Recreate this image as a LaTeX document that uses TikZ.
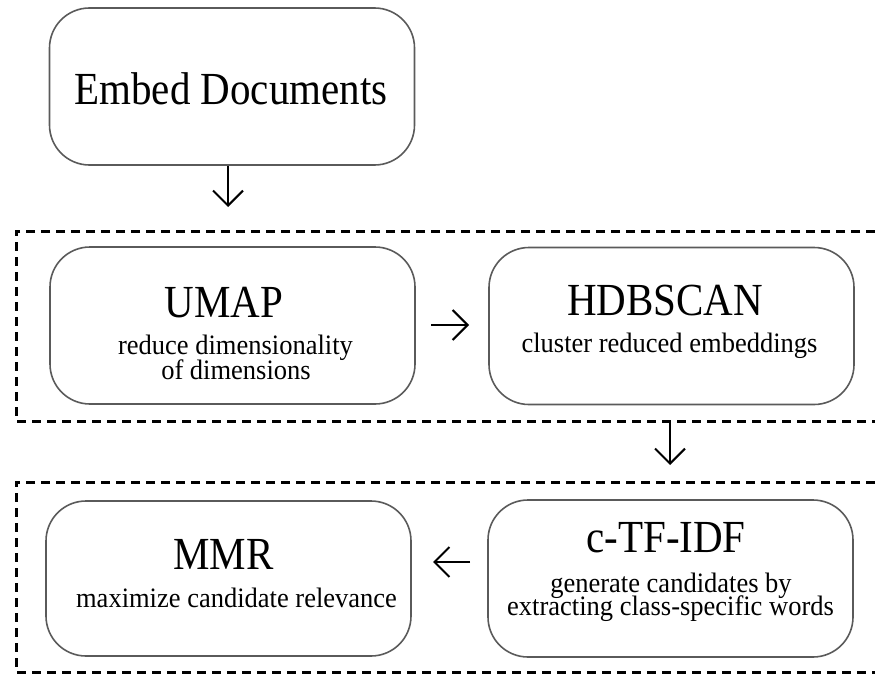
\documentclass[tikz,border=0pt]{standalone}
\usepackage{graphicx}
\usepackage{fontspec}
\setmainfont{Liberation Serif}
\usetikzlibrary{arrows.meta}
\definecolor{boxgray}{HTML}{5A5A5A}
\newcommand{\vstretch}[1]{\scalebox{1}[1.12]{#1}}
\newcommand{\vstretchs}[1]{\scalebox{1}[1.06]{#1}}
\tikzset{
  stepbox/.style={draw=boxgray, line width=1.6pt, rounded corners=40pt,
    minimum width=365pt, minimum height=157pt, inner sep=0pt},
  titletext/.style={anchor=base, inner sep=0pt, font=\fontsize{41}{45}\selectfont},
  subtext/.style={anchor=base, inner sep=0pt, font=\fontsize{26.5}{30}\selectfont},
  firstline/.style={text depth=0pt},
  groupbox/.style={draw=black, line width=3pt, dash pattern=on 9pt off 6pt},
  flow/.style={line width=2pt, -{Straight Barb[length=15pt,width=30pt]}},
}
\begin{document}
\begin{tikzpicture}[x=1pt,y=-1pt]
\useasboundingbox (0,0) rectangle (875,674);

% groups
\draw[groupbox] (890,231) -- (16,231) -- (16,421) -- (890,421);
\draw[groupbox] (890,482) -- (16,482) -- (16,672) -- (890,672);

% boxes
\node[stepbox] (embed) at (232,86.5) {};
\node[stepbox] (umap) at (232.5,325.5) {};
\node[stepbox] (hdb) at (671.5,326) {};
\node[stepbox, minimum height=155pt] (mmr) at (228.5,578.5) {};
\node[stepbox] (ctf) at (670.5,578.5) {};

% texts
\node[titletext] (tembed) at (231,105) {\vstretch{Embed Documents}};
\node[titletext] (tumap) at (224,317) {\vstretch{UMAP}};
\node[subtext, firstline] (sumapa) at (235.5,354) {\vstretchs{reduce dimensionality}};
\node[subtext] (sumapb) at (236,379) {\vstretchs{of dimensions}};
\node[titletext] (thdb) at (665,315) {\vstretch{HDBSCAN}};
\node[subtext] (shdb) at (669.5,352) {\vstretchs{cluster reduced embeddings}};
\node[titletext] (tmmr) at (223.5,569) {\vstretch{MMR}};
\node[subtext] (smmr) at (236.5,607) {\vstretchs{maximize candidate relevance}};
\node[titletext] (tctf) at (666,552) {\vstretch{c-TF-IDF}};
\node[subtext, firstline] (sctfa) at (671,592.5) {\vstretchs{generate candidates by}};
\node[subtext] (sctfb) at (670.5,615.5) {\vstretchs{extracting class-specific words}};

% arrows
\coordinate (a1e) at (228,207);
\draw[flow] (embed.south -| a1e) -- (a1e);
\coordinate (a2s) at (431,325);
\coordinate (a2e) at (469,325);
\draw[flow] (a2s) -- (a2e);
\coordinate (a3s) at (670,423);
\coordinate (a3e) at (670,465);
\draw[flow] (a3s) -- (a3e);
\coordinate (a4s) at (470,562);
\coordinate (a4e) at (433,562);
\draw[flow] (a4s) -- (a4e);
\end{tikzpicture}
\end{document}
